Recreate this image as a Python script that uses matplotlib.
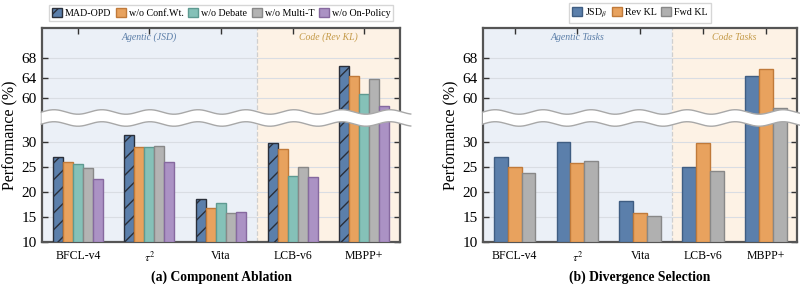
import numpy as np
import matplotlib
matplotlib.use("Agg")
import matplotlib.pyplot as plt
from matplotlib.transforms import blended_transform_factory
from matplotlib.patches import Polygon

plt.rcParams['font.family'] = ['Liberation Serif', 'DejaVu Serif']
plt.rcParams['mathtext.fontset'] = 'stix'
plt.rcParams['hatch.linewidth'] = 1.0

# ---------------- data ----------------
benchmarks = ["BFCL-v4", r"$\tau^2$", "Vita", "LCB-v6", "MBPP+"]

abl_labels = ["MAD-OPD", "w/o Conf.Wt.", "w/o Debate", "w/o Multi-T", "w/o On-Policy"]
mad_opd    = [27.0, 31.3, 18.5, 29.7, 66.4]
wo_conf    = [26.0, 29.0, 16.7, 28.5, 64.5]
wo_debate  = [25.6, 28.9, 17.7, 23.1, 60.7]
wo_multit  = [24.7, 29.1, 15.8, 24.9, 63.8]
wo_onpol   = [22.5, 25.9, 15.9, 23.0, 58.4]

div_labels = [r"JSD$_\beta$", "Rev KL", "Fwd KL"]
jsd    = [27.0, 29.9, 18.2, 24.9, 64.5]
rev_kl = [24.9, 25.8, 15.7, 29.7, 65.8]
fwd_kl = [23.7, 26.1, 15.2, 24.2, 58.0]

low_ticks = [10, 15, 20, 25, 30]
high_ticks = [60, 64, 68]

# ---------------- styling ----------------
OFFSET = 21.2          # shift applied to values in the upper segment
BREAK_LO, BREAK_HI = 33.6, 36.0
YMIN, YMAX = 10, 74 - OFFSET

def tr(v):
    return v - OFFSET if v > 40 else v

abl_colors = ["#5b7fab", "#e8a25e", "#85c1b8", "#b3b3b3", "#ab92c4"]
abl_edges  = ["#2a2f3a", "#c07a3a", "#5e9a91", "#888888", "#86699f"]
div_colors = ["#5b7fab", "#e8a25e", "#b0b0b0"]
div_edges  = ["#3f5d82", "#c07a3a", "#888888"]

BG_AG = "#ebf0f7"
BG_CODE = "#fdf2e5"
SPINE = "#555555"

fig = plt.figure(figsize=(8, 2.89), dpi=100)
axL = fig.add_axes([0.0525, 0.163, 0.4475, 0.740])
axR = fig.add_axes([0.604, 0.163, 0.3925, 0.740])


def draw_panel(ax, series, labels, colors, edges, width, hatch_first, region_labels, region_colors):
    n = len(series)
    x = np.arange(len(benchmarks))
    ax.set_xlim(-0.5, len(benchmarks) - 0.5)
    ax.set_ylim(YMIN, YMAX)
    ax.axvspan(-0.5, 2.5, color=BG_AG, zorder=0, lw=0)
    ax.axvspan(2.5, 4.5, color=BG_CODE, zorder=0, lw=0)
    ax.axvline(2.5, color="#cfcfcf", ls="--", lw=0.9, zorder=0.5)
    handles = []
    for i, (vals, lab, c, e) in enumerate(zip(series, labels, colors, edges)):
        pos = x + (i - (n - 1) / 2) * width
        h = ax.bar(pos, [tr(v) - YMIN for v in vals], width, bottom=YMIN, color=c,
                   edgecolor=e, linewidth=1.0, zorder=3,
                   hatch="//" if (hatch_first and i == 0) else None, label=lab)
        handles.append(h)
    yt = low_ticks + [tr(v) for v in high_ticks]
    ax.set_yticks(yt)
    ax.set_yticklabels([str(v) for v in low_ticks + high_ticks], fontsize=11)
    for y in yt:
        ax.axhline(y, color="#d9dde3", lw=0.8, zorder=0.8)
    ax.set_xticks(x)
    ax.set_xticklabels(benchmarks, fontsize=8.5)
    ax.tick_params(axis="both", direction="in", length=4, width=1.0, color="#333333",
                   top=True, right=True, pad=4)
    ax.tick_params(axis="x", pad=6)
    for s in ax.spines.values():
        s.set_color(SPINE)
        s.set_linewidth(1.6)
    ax.set_ylabel("Performance (%)", fontsize=11.5, labelpad=2)
    # region labels
    ax.text(1.0, 51.0, region_labels[0], ha="center", va="center", fontsize=7,
            style="italic", color=region_colors[0], zorder=4)
    ax.text(3.5, 51.0, region_labels[1], ha="center", va="center", fontsize=7,
            style="italic", color=region_colors[1], zorder=4)
    # wavy break band
    fig.canvas.draw()
    bb = ax.get_window_extent()
    wpx = bb.width
    xs = np.linspace(-0.002, 1.03, 400)
    period_px = 48.0
    amp = 0.45
    ph = 2 * np.pi * xs * wpx / period_px
    top = BREAK_HI + amp * np.sin(ph)
    bot = BREAK_LO + amp * np.sin(ph)
    trans = blended_transform_factory(ax.transAxes, ax.transData)
    verts = np.vstack([np.column_stack([xs, top]), np.column_stack([xs[::-1], bot[::-1]])])
    poly = Polygon(verts, closed=True, facecolor="white", edgecolor="none",
                   transform=trans, zorder=10, clip_on=False)
    ax.add_patch(poly)
    ax.plot(xs, top, color="#a8a8a8", lw=1.0, transform=trans, zorder=11, clip_on=False)
    ax.plot(xs, bot, color="#a8a8a8", lw=1.0, transform=trans, zorder=11, clip_on=False)
    return handles


hL = draw_panel(axL, [mad_opd, wo_conf, wo_debate, wo_multit, wo_onpol], abl_labels,
                abl_colors, abl_edges, 0.14, True,
                ["Agentic (JSD)", "Code (Rev KL)"], ["#5b7ea8", "#c49a48"])
hR = draw_panel(axR, [jsd, rev_kl, fwd_kl], div_labels, div_colors, div_edges, 0.22, False,
                ["Agentic Tasks", "Code Tasks"], ["#5b7ea8", "#c49a48"])

leg_kw = dict(fontsize=7.2, frameon=True, fancybox=False, edgecolor="#cccccc",
              handlelength=1.0, handleheight=0.9, handletextpad=0.3, columnspacing=0.45,
              borderpad=0.3, borderaxespad=0)
fig.legend(handles=hL, labels=abl_labels, loc="center", bbox_to_anchor=(0.2763, 0.955),
           ncol=5, **leg_kw)
fig.legend(handles=hR, labels=div_labels, loc="center", bbox_to_anchor=(0.80, 0.955),
           ncol=3, **leg_kw)

fig.text(0.2763, 0.042, "(a) Component Ablation", ha="center", va="center",
         fontsize=9.8, fontweight="bold")
fig.text(0.80, 0.042, "(b) Divergence Selection", ha="center", va="center",
         fontsize=9.8, fontweight="bold")

fig.savefig("out.png", dpi=100)
